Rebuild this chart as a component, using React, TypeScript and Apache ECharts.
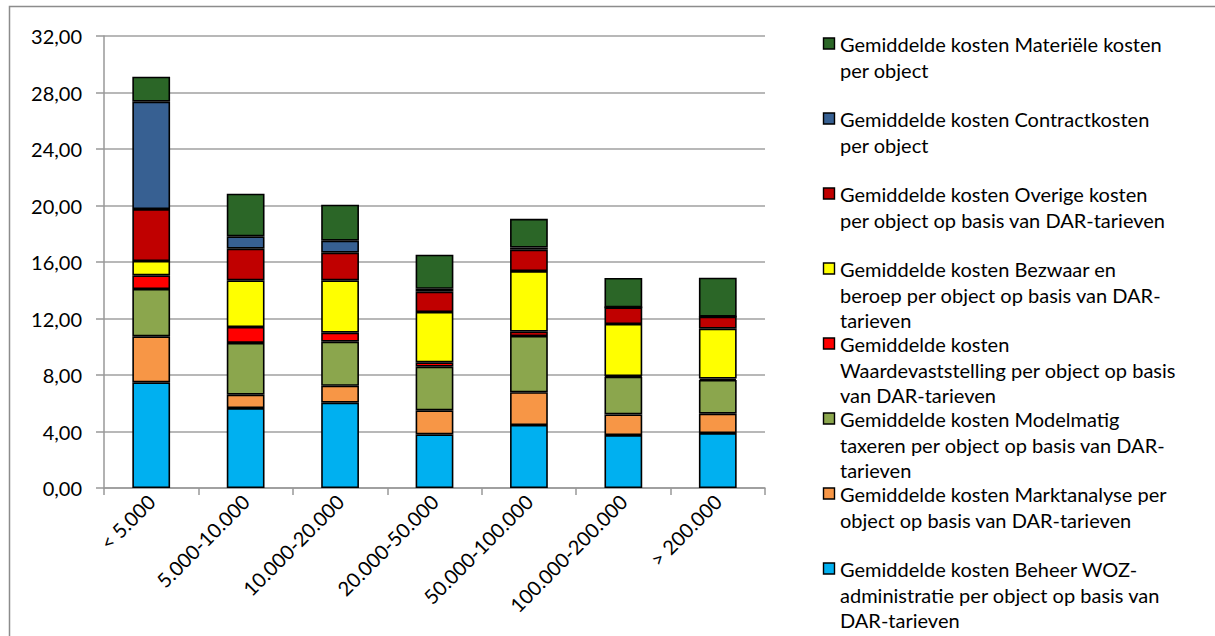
import React, { useEffect, useRef } from "react";
import * as echarts from "echarts";

const categories = ["< 5.000", "5.000-10.000", "10.000-20.000", "20.000-50.000", "50.000-100.000", "100.000-200.000", "> 200.000"];

const beheer = [7.48, 5.66, 6.04, 3.8, 4.46, 3.75, 3.89];
const marktanalyse = [3.26, 0.95, 1.2, 1.7, 2.32, 1.46, 1.37];
const modelmatig = [3.35, 3.66, 3.12, 3.09, 3.98, 2.67, 2.39];
const waardevaststelling = [0.97, 1.13, 0.64, 0.31, 0.31, 0.05, 0.1];
const bezwaar = [1.01, 3.3, 3.7, 3.56, 4.29, 3.68, 3.53];
const overige = [3.68, 2.24, 1.96, 1.44, 1.51, 1.18, 0.85];
const contract = [7.6, 0.88, 0.85, 0.2, 0.15, 0, 0];
const materieel = [1.77, 3.02, 2.55, 2.42, 2.04, 2.08, 2.76];

const yTicks = { min: 0, max: 32, interval: 4 };

const seriesNames = [
  "Gemiddelde kosten Beheer WOZ-administratie per object op basis van DAR-tarieven",
  "Gemiddelde kosten Marktanalyse per object op basis van DAR-tarieven",
  "Gemiddelde kosten Modelmatig taxeren per object op basis van DAR-tarieven",
  "Gemiddelde kosten Waardevaststelling per object op basis van DAR-tarieven",
  "Gemiddelde kosten Bezwaar en beroep per object op basis van DAR-tarieven",
  "Gemiddelde kosten Overige kosten per object op basis van DAR-tarieven",
  "Gemiddelde kosten Contractkosten per object",
  "Gemiddelde kosten Materiële kosten per object",
];

const legendLines = [
  ["Gemiddelde kosten Beheer WOZ-", "administratie per object op basis van", "DAR-tarieven"],
  ["Gemiddelde kosten Marktanalyse per", "object op basis van DAR-tarieven"],
  ["Gemiddelde kosten Modelmatig", "taxeren per object op basis van DAR-", "tarieven"],
  ["Gemiddelde kosten", "Waardevaststelling per object op basis", "van DAR-tarieven"],
  ["Gemiddelde kosten Bezwaar en", "beroep per object op basis van DAR-", "tarieven"],
  ["Gemiddelde kosten Overige kosten", "per object op basis van DAR-tarieven"],
  ["Gemiddelde kosten Contractkosten", "per object"],
  ["Gemiddelde kosten Materiële kosten", "per object"],
];

const colors = ["#00B0F0", "#F79646", "#8BA64D", "#FF0000", "#FFFF00", "#C00000", "#376092", "#2B6627"];

const FONT = "Lato";
const FS = 20;

export default function App() {
  const ref = useRef<HTMLDivElement>(null);
  useEffect(() => {
    if (!ref.current) return;
    const chart = echarts.init(ref.current, undefined, { renderer: "svg" });
    const values = [beheer, marktanalyse, modelmatig, waardevaststelling, bezwaar, overige, contract, materieel];
    const series = values.map((v, i) => ({
      name: seriesNames[i],
      type: "bar",
      stack: "total",
      barWidth: "40%",
      data: v,
      itemStyle: { color: colors[i], borderColor: "#000", borderWidth: 1.6 },
    }));

    const legendItems: any[] = [];
    const n = seriesNames.length;
    for (let k = 0; k < n; k++) {
      const si = n - 1 - k;
      const cy = 44 + 75 * k;
      legendItems.push({
        type: "rect",
        shape: { x: 823.5, y: cy - 6, width: 11, height: 11 },
        style: { fill: colors[si], stroke: "#000", lineWidth: 1.4 },
        silent: true,
      });
      legendItems.push({
        type: "text",
        x: 840,
        y: cy - 12.75,
        style: {
          text: legendLines[si].join("\n"),
          fontFamily: FONT,
          fontSize: FS,
          lineHeight: 25.5,
          fill: "#000",
          verticalAlign: "top",
          align: "left",
        },
        silent: true,
      });
    }

    chart.setOption({
      animation: false,
      backgroundColor: "#fff",
      grid: { left: 104, right: 450, top: 36, bottom: 148 },
      xAxis: {
        type: "category",
        data: categories,
        axisLine: { lineStyle: { color: "#999", width: 1.5 } },
        axisTick: { show: true, length: 7, lineStyle: { color: "#999", width: 1.5 } },
        axisLabel: { rotate: 45, margin: 10, color: "#000", fontFamily: FONT, fontSize: FS },
      },
      yAxis: {
        type: "value",
        min: yTicks.min,
        max: yTicks.max,
        interval: yTicks.interval,
        axisLine: { show: true, lineStyle: { color: "#999", width: 1.5 } },
        axisTick: { show: true, length: 8, lineStyle: { color: "#999", width: 1.5 } },
        splitLine: { lineStyle: { color: "#a0a0a0", width: 1.5 } },
        axisLabel: {
          margin: 22,
          color: "#000",
          fontFamily: FONT,
          fontSize: FS,
          formatter: (v: number) => v.toFixed(2).replace(".", ","),
        },
      },
      series,
      graphic: [
        {
          type: "rect",
          shape: { x: 9.5, y: 6.5, width: 1220, height: 640 },
          style: { fill: "none", stroke: "#8c8c8c", lineWidth: 1.5 },
          silent: true,
          z: -1,
        },
        ...legendItems,
      ],
    });
    return () => chart.dispose();
  }, []);
  return <div ref={ref} style={{ position: "absolute", left: 0, top: 0, width: 1215, height: 636 }} />;
}
